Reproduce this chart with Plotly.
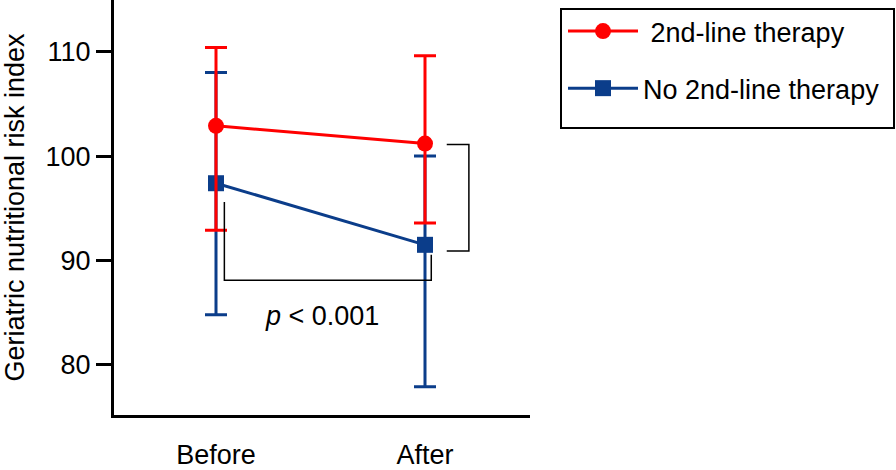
import plotly.graph_objects as go

timepoints = ["Before", "After"]
x_pos = [0, 1]

second_line_mean = [102.9, 101.2]
second_line_upper = [110.4, 109.6]
second_line_lower = [92.9, 93.6]

no_second_line_mean = [97.4, 91.5]
no_second_line_upper = [108.0, 100.0]
no_second_line_lower = [84.8, 77.9]

y_ticks = [80, 90, 100, 110]

RED = "#FF0000"
BLUE = "#0B3D8A"
FONT = "Liberation Sans, Arial, sans-serif"

L, R, T, B = 114, 366, 0, 55
W, H = 896, 470
PW, PH = W - L - R, H - T - B

def err(mean, up, lo):
    return ([u - m for u, m in zip(up, mean)], [m - l for m, l in zip(mean, lo)])

def px_x(px):
    return (px - L) / PW

def px_y(py):
    return (H - B - py) / PH

fig = go.Figure()

bp, bm = err(no_second_line_mean, no_second_line_upper, no_second_line_lower)
fig.add_trace(go.Scatter(
    x=x_pos, y=no_second_line_mean, mode="lines+markers",
    name="No 2nd-line therapy", legendgroup="b", legendrank=2,
    line=dict(color=BLUE, width=3),
    marker=dict(symbol="square", size=16, color=BLUE),
    error_y=dict(type="data", symmetric=False, array=bp, arrayminus=bm,
                 color=BLUE, thickness=3, width=11),
    cliponaxis=False,
))

rp, rm = err(second_line_mean, second_line_upper, second_line_lower)
fig.add_trace(go.Scatter(
    x=x_pos, y=second_line_mean, mode="lines+markers",
    name=" 2nd-line therapy", legendgroup="a", legendrank=1,
    line=dict(color=RED, width=3),
    marker=dict(symbol="circle", size=16, color=RED),
    error_y=dict(type="data", symmetric=False, array=rp, arrayminus=rm,
                 color=RED, thickness=3, width=11),
    cliponaxis=False,
))

# significance brackets
bracket_line = dict(color="black", width=1.5)
fig.add_shape(type="path", xref="x", yref="y",
              path="M 0.04 95.6 L 0.04 88.1 L 1.03 88.1 L 1.03 90.55",
              line=bracket_line)
fig.add_shape(type="path", xref="x", yref="y",
              path="M 1.104 101.1 L 1.21 101.1 L 1.21 90.9 L 1.104 90.9",
              line=bracket_line)

fig.add_annotation(x=0.507, y=84.7, xref="x", yref="y", text="<i>p</i> &lt; 0.001",
                   showarrow=False, font=dict(size=27, color="black", family=FONT))
fig.add_annotation(x=1.612, y=96.3, xref="x", yref="y", text="<i>p</i> &lt; 0.001",
                   showarrow=False, font=dict(size=27, color="black", family=FONT))

# legend frame
fig.add_shape(type="rect", xref="paper", yref="paper",
              x0=px_x(561), x1=px_x(894), y0=px_y(128), y1=px_y(9),
              line=dict(color="black", width=2))

fig.update_layout(
    width=W, height=H,
    margin=dict(l=L, r=R, t=T, b=B, autoexpand=False),
    paper_bgcolor="white", plot_bgcolor="white",
    font=dict(family=FONT, size=27, color="black"),
    showlegend=True,
    legend=dict(x=px_x(563), y=px_y(7), xanchor="left", yanchor="top",
                borderwidth=0, bgcolor="rgba(0,0,0,0)",
                font=dict(size=27, color="black", family=FONT),
                itemwidth=70, tracegroupgap=19, traceorder="grouped"),
    xaxis=dict(range=[-(216 - L) / 209, -(216 - L) / 209 + PW / 209],
               tickvals=x_pos, ticktext=timepoints,
               showline=True, linecolor="black", linewidth=3,
               showgrid=False, zeroline=False, ticks="",
               ticklabelstandoff=14, tickfont=dict(size=27), automargin=False),
    yaxis=dict(range=[75.2, 114.95], tickvals=y_ticks,
               showline=True, linecolor="black", linewidth=3,
               showgrid=False, zeroline=False,
               ticks="outside", ticklen=15, tickwidth=3, tickcolor="black",
               tickfont=dict(size=27), automargin=False,
               title=dict(text="Geriatric nutritional risk index", standoff=20,
                          font=dict(size=27))),
)

fig.write_html("out.html", config={"displayModeBar": False},
               post_script="document.body.style.margin='0px';document.body.style.overflow='hidden';")
